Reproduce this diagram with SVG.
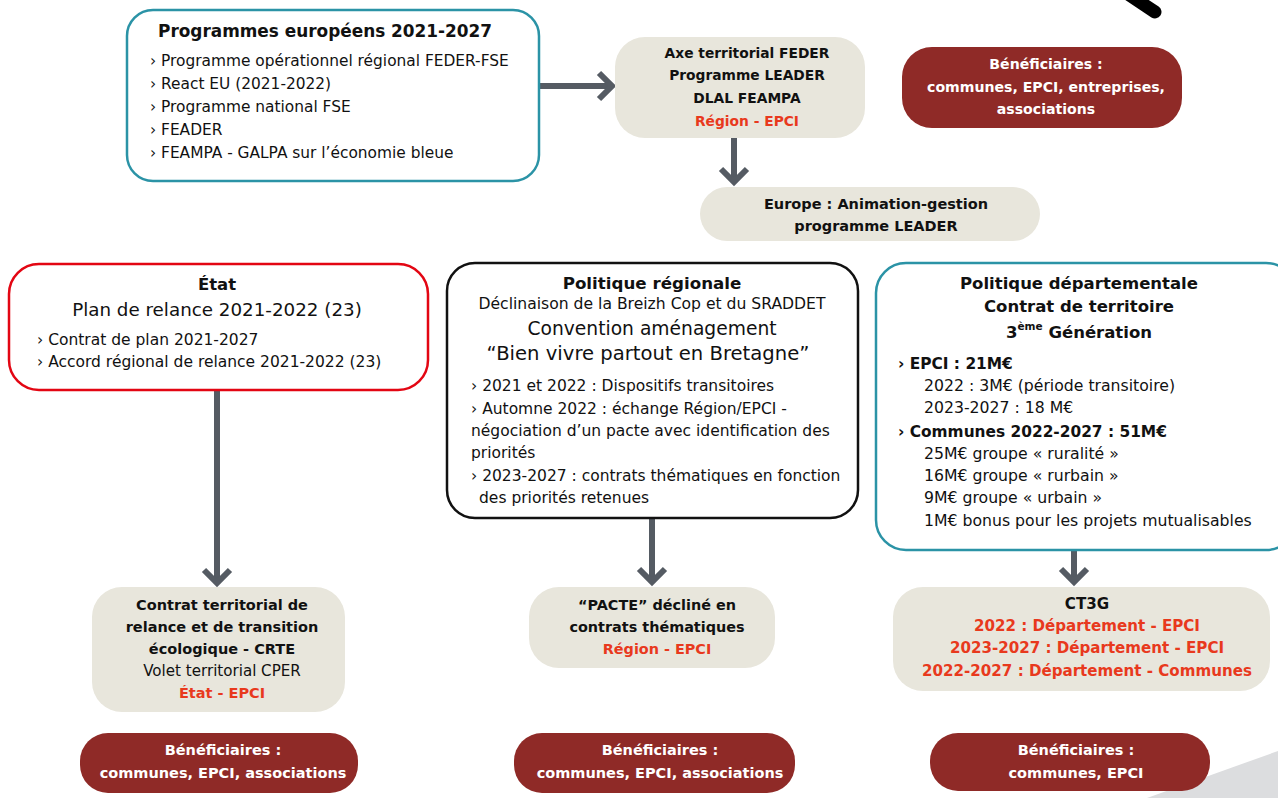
<svg xmlns="http://www.w3.org/2000/svg" width="1278" height="798" viewBox="0 0 1278 798">
<defs>
<style>
text{font-family:"DejaVu Sans","Liberation Sans",Arial,sans-serif;fill:#111}
.b{font-weight:bold}
.c{text-anchor:middle}
.red{fill:#e8391d}
.w{fill:#fff;font-weight:bold;text-anchor:middle;font-size:14.5px}
.beige{fill:#e8e6dc}
.dark{fill:#8f2a27}
.teal{fill:#fff;stroke:#2b93a6;stroke-width:2.5}
.conn{stroke:#555b63;stroke-width:6;fill:none;marker-end:url(#chev)}
</style>
<marker id="chev" markerUnits="userSpaceOnUse" viewBox="-20 -20 30 40" markerWidth="30" markerHeight="40" refX="0" refY="0" orient="auto">
<path d="M-13,-13 L0,0 L-13,13" fill="none" stroke="#555b63" stroke-width="6"/>
</marker>
</defs>
<rect width="1278" height="798" fill="#fff"/>
<polygon points="1147,798 1278,751 1278,798" fill="#dcdddf"/>
<line x1="1125" y1="-8" x2="1155" y2="12" stroke="#000" stroke-width="13" stroke-linecap="round"/>

<g id="connectors">
<line class="conn" x1="540" y1="86" x2="612" y2="86"/>
<line class="conn" x1="734" y1="138" x2="734" y2="182"/>
<line class="conn" x1="217" y1="390" x2="217" y2="583"/>
<line class="conn" x1="652" y1="518" x2="652" y2="582"/>
<line class="conn" x1="1074" y1="550" x2="1074" y2="582"/>
</g>

<g id="prog-europeens">
<rect class="teal" x="127" y="10" width="412" height="171" rx="26"/>
<text class="b" x="158" y="37" font-size="16.9">Programmes européens 2021-2027</text>
<g font-size="15.4">
<text x="150" y="66">› Programme opérationnel régional FEDER-FSE</text>
<text x="150" y="89">› React EU (2021-2022)</text>
<text x="150" y="112">› Programme national FSE</text>
<text x="150" y="135">› FEADER</text>
<text x="150" y="158">› FEAMPA - GALPA sur l’économie bleue</text>
</g>
</g>

<g id="axe-territorial">
<rect class="beige" x="615" y="37" width="250" height="101" rx="30"/>
<g class="b c" font-size="13.8">
<text x="747" y="58">Axe territorial FEDER</text>
<text x="747" y="80">Programme LEADER</text>
<text x="747" y="103">DLAL FEAMPA</text>
<text class="red" x="747" y="126">Région - EPCI</text>
</g>
</g>

<g id="europe-animation">
<rect class="beige" x="700" y="187" width="340" height="54" rx="27"/>
<g class="b c" font-size="14.5">
<text x="876" y="209">Europe : Animation-gestion</text>
<text x="876" y="231">programme LEADER</text>
</g>
</g>

<g id="benef-top">
<rect class="dark" x="902" y="47" width="280" height="81" rx="30"/>
<g style="font-size:14.1px">
<text class="w" x="1046" y="69" style="font-size:14.1px">Bénéficiaires :</text>
<text class="w" x="1046" y="92" style="font-size:14.1px">communes, EPCI, entreprises,</text>
<text class="w" x="1046" y="114" style="font-size:14.1px">associations</text>
</g>
</g>

<g id="etat">
<rect x="9" y="264" width="419" height="126" rx="30" fill="#fff" stroke="#e30613" stroke-width="2.5"/>
<text class="b c" x="217" y="290" font-size="16.5">État</text>
<text class="c" x="217" y="316" font-size="18.3">Plan de relance 2021-2022 (23)</text>
<g font-size="15.5">
<text x="37" y="345">› Contrat de plan 2021-2027</text>
<text x="37" y="367">› Accord régional de relance 2021-2022 (23)</text>
</g>
</g>

<g id="politique-regionale">
<rect x="447" y="263" width="411" height="255" rx="28" fill="#fff" stroke="#111" stroke-width="2.5"/>
<text class="b c" x="652" y="289" font-size="16.7">Politique régionale</text>
<text class="c" x="652" y="309" font-size="15.6">Déclinaison de la Breizh Cop et du SRADDET</text>
<text class="c" x="652" y="335" font-size="18.7">Convention aménagement</text>
<text class="c" x="648" y="360" font-size="19.6">“Bien vivre partout en Bretagne”</text>
<g font-size="15.5">
<text x="471" y="391">› 2021 et 2022 : Dispositifs transitoires</text>
<text x="471" y="414">› Automne 2022 : échange Région/EPCI -</text>
<text x="471" y="436">négociation d’un pacte avec identification des</text>
<text x="471" y="458">priorités</text>
<text x="471" y="481">› 2023-2027 : contrats thématiques en fonction</text>
<text x="479" y="503">des priorités retenues</text>
</g>
</g>

<g id="politique-departementale">
<rect class="teal" x="876" y="263" width="420" height="287" rx="30"/>
<g class="b c" font-size="16.5">
<text x="1079" y="289">Politique départementale</text>
<text x="1079" y="312">Contrat de territoire</text>
<text x="1079" y="338">3<tspan font-size="10.5" dy="-8">ème</tspan><tspan dy="8"> Génération</tspan></text>
</g>
<g font-size="15.7">
<text class="b" x="898" y="369" font-size="15.4">› EPCI : 21M€</text>
<text x="924" y="391">2022 : 3M€ (période transitoire)</text>
<text x="924" y="413">2023-2027 : 18 M€</text>
<text class="b" x="898" y="437" font-size="15.4">› Communes 2022-2027 : 51M€</text>
<text x="924" y="459">25M€ groupe « ruralité »</text>
<text x="924" y="481">16M€ groupe « rurbain »</text>
<text x="924" y="503">9M€ groupe « urbain »</text>
<text x="924" y="526">1M€ bonus pour les projets mutualisables</text>
</g>
</g>

<g id="crte">
<rect class="beige" x="92" y="587" width="253" height="125" rx="30"/>
<g class="c" font-size="14.5">
<text class="b" x="222" y="610">Contrat territorial de</text>
<text class="b" x="222" y="632">relance et de transition</text>
<text class="b" x="222" y="654">écologique - CRTE</text>
<text x="222" y="676" font-size="15.1">Volet territorial CPER</text>
<text class="b red" x="222" y="698">État - EPCI</text>
</g>
</g>

<g id="pacte">
<rect class="beige" x="529" y="587" width="246" height="81" rx="30"/>
<g class="b c" font-size="14.4">
<text x="657" y="610">“PACTE” décliné en</text>
<text x="657" y="632">contrats thématiques</text>
<text class="red" x="657" y="654">Région - EPCI</text>
</g>
</g>

<g id="ct3g">
<rect class="beige" x="893" y="587" width="377" height="104" rx="30"/>
<g class="b c" font-size="15.1">
<text x="1087" y="609">CT3G</text>
<text class="red" x="1087" y="631">2022 : Département - EPCI</text>
<text class="red" x="1087" y="653">2023-2027 : Département - EPCI</text>
<text class="red" x="1087" y="676">2022-2027 : Département - Communes</text>
</g>
</g>

<g id="benef-1">
<rect class="dark" x="80" y="733" width="278" height="60" rx="28"/>
<text class="w" x="223" y="755">Bénéficiaires :</text>
<text class="w" x="223" y="778">communes, EPCI, associations</text>
</g>

<g id="benef-2">
<rect class="dark" x="514" y="733" width="281" height="60" rx="28"/>
<text class="w" x="660" y="755">Bénéficiaires :</text>
<text class="w" x="660" y="778">communes, EPCI, associations</text>
</g>

<g id="benef-3">
<rect class="dark" x="930" y="733" width="280" height="58" rx="28"/>
<text class="w" x="1076" y="755">Bénéficiaires :</text>
<text class="w" x="1076" y="778">communes, EPCI</text>
</g>
</svg>
